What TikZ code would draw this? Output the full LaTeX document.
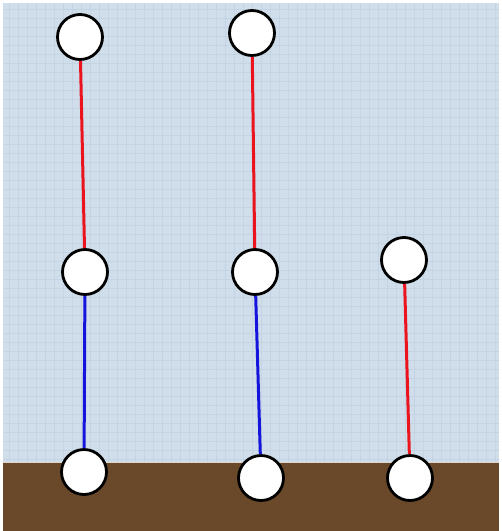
\documentclass[tikz,border=0pt]{standalone}
\definecolor{sky}{RGB}{207,222,234}
\definecolor{gridc}{RGB}{196,212,226}
\definecolor{soil}{RGB}{106,73,42}
\definecolor{edgec}{RGB}{220,215,205}
\definecolor{ropered}{RGB}{235,20,30}
\definecolor{ropeblue}{RGB}{20,20,220}
\begin{document}
\begin{tikzpicture}[x=1pt,y=-1pt,
  ball/.style={circle,draw=black,line width=2.8pt,fill=white,minimum size=45pt,inner sep=0pt},
  redrope/.style={draw=ropered,line width=3pt},
  bluerope/.style={draw=ropeblue,line width=3pt}]
\useasboundingbox (0,0) rectangle (502,531);
\fill[white] (0,0) rectangle (502,531);
\fill[sky] (3,3) rectangle (499,462);
\begin{scope}
\clip (3,3) rectangle (499,462);
\draw[gridc,line width=0.5pt,step=9pt] (0pt,-470pt) grid (510pt,0pt);
\end{scope}
\fill[soil] (3,462) rectangle (499,531);
\draw[edgec,line width=0.8pt] (3,462) -- (499,462);
\node[ball] (a1) at (80,37) {};
\node[ball] (a2) at (85,272) {};
\node[ball] (a3) at (84,472) {};
\node[ball] (b1) at (252,33) {};
\node[ball] (b2) at (255,272) {};
\node[ball] (b3) at (261,478) {};
\node[ball] (c2) at (404,260) {};
\node[ball] (c3) at (410,478) {};
\draw[redrope] (a1) -- (a2);
\draw[bluerope] (a2) -- (a3);
\draw[redrope] (b1) -- (b2);
\draw[bluerope] (b2) -- (b3);
\draw[redrope] (c2) -- (c3);
\end{tikzpicture}
\end{document}
